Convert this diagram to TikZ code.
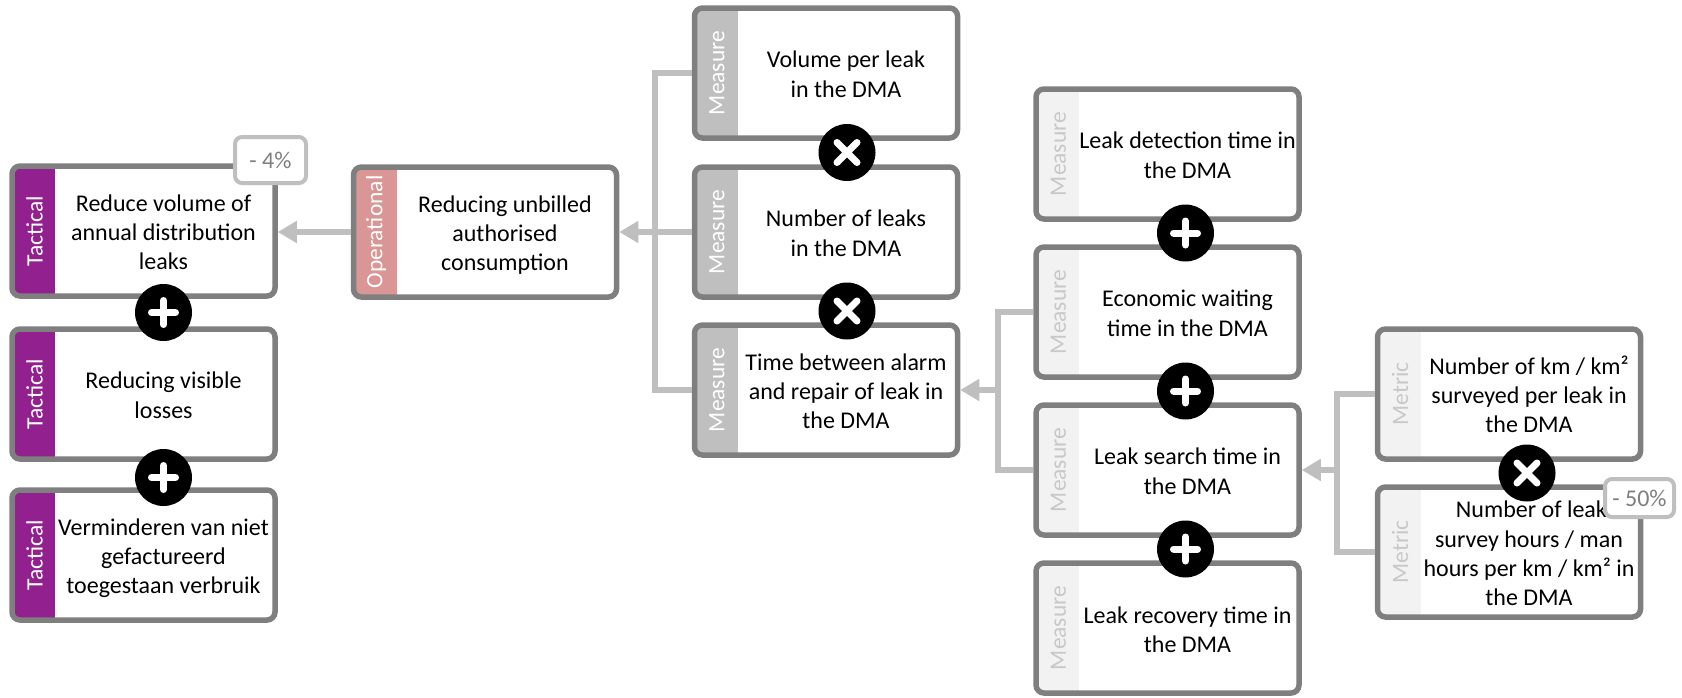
\documentclass[tikz,border=0pt]{standalone}
\usepackage{fontspec}
\setmainfont{Carlito}
\usetikzlibrary{arrows.meta,calc}

\definecolor{cardborder}{HTML}{7F7F7F}
\definecolor{tacticalband}{HTML}{93208F}
\definecolor{operationalband}{HTML}{D99694}
\definecolor{measureband}{HTML}{BFBFBF}
\definecolor{paleband}{HTML}{F2F2F2}
\definecolor{palelabel}{HTML}{C8C8C8}
\definecolor{wiregray}{HTML}{BFBFBF}

\newcommand\cardfont{\fontsize{24}{29.3}\selectfont}
\newcommand\bandfont{\fontsize{23.5}{28}\selectfont}
% card text: centred lines, pushed right of the coloured band and set a little low
\newcommand\cardtext[1]{\hspace*{40pt}\raisebox{-10pt}[0pt][0pt]{\begin{tabular}{@{}c@{}}#1\end{tabular}}}

\tikzset{
  card/.style n args={3}{
    draw=cardborder, line width=5.5pt, rounded corners=8pt, fill=white,
    minimum width=263pt, minimum height=130pt, inner sep=0pt,
    font=\cardfont, text=black,
    path picture={
      \fill[#1, sharp corners] (path picture bounding box.south west)
        rectangle ([xshift=43pt]path picture bounding box.north west);
      \node[rotate=90, text=#2, font=\bandfont, inner sep=0pt]
        at ([xshift=22.5pt]path picture bounding box.west) {#3};
    }},
  tactical/.style={card={tacticalband}{white}{Tactical}},
  operational/.style={card={operationalband}{white}{Operational}},
  measure/.style={card={measureband}{white}{Measure}},
  palemeasure/.style={card={paleband}{palelabel}{Measure}},
  metric/.style={card={paleband}{palelabel}{Metric}},
  opdisc/.style={circle, fill=black, minimum size=57pt, inner sep=0pt},
  plussign/.style={opdisc, path picture={
      \draw[white, line width=7pt, line cap=round]
        ([xshift=-12pt]path picture bounding box.center) -- ([xshift=12pt]path picture bounding box.center)
        ([yshift=-12pt]path picture bounding box.center) -- ([yshift=12pt]path picture bounding box.center);}},
  timessign/.style={opdisc, path picture={
      \draw[white, line width=7pt, line cap=round]
        ([shift={(-10pt,-10pt)}]path picture bounding box.center) -- ([shift={(10pt,10pt)}]path picture bounding box.center)
        ([shift={(-10pt,10pt)}]path picture bounding box.center) -- ([shift={(10pt,-10pt)}]path picture bounding box.center);}},
  badge/.style={draw=wiregray, line width=4pt, rounded corners=7pt, fill=white,
    text=cardborder, font=\cardfont, inner sep=0pt},
  wire/.style={draw=wiregray, line width=6pt},
  feed/.style={wire, -{Triangle[length=19pt,width=21pt]}},
}

\begin{document}
\begin{tikzpicture}[x=1pt, y=-1pt]
\useasboundingbox (0,0) rectangle (1682,697);

% tactical column
\node[tactical] (t1) at (143.5,231) {\cardtext{Reduce volume of\\annual distribution\\leaks}};
\node[tactical] (t2) at (143.5,394) {\cardtext{Reducing visible\\losses}};
\node[tactical] (t3) at (143.5,555) {\cardtext{Verminderen van niet\\gefactureerd\\toegestaan verbruik}};

% operational objective
\node[operational] (op) at (485,232) {\cardtext{Reducing unbilled\\authorised\\consumption}};

% measures feeding the operational objective
\node[measure] (m1) at (826,73) {\cardtext{Volume per leak\\in the DMA}};
\node[measure] (m2) at (826,232) {\cardtext{Number of leaks\\in the DMA}};
\node[measure] (m3) at (826,390) {\cardtext{Time between alarm\\and repair of leak in\\the DMA}};

% components of the alarm-to-repair time
\node[palemeasure] (r1) at (1167.5,154) {\cardtext{Leak detection time in\\the DMA}};
\node[palemeasure] (r2) at (1167.5,312) {\cardtext{Economic waiting\\time in the DMA}};
\node[palemeasure] (r3) at (1167.5,470) {\cardtext{Leak search time in\\the DMA}};
\node[palemeasure] (r4) at (1167.5,628) {\cardtext{Leak recovery time in\\the DMA}};

% metrics of the leak search time
\node[metric] (x1) at (1509,394) {\cardtext{Number of km / km²\\surveyed per leak in\\the DMA}};
\node[metric] (x2) at (1509,552) {\cardtext{\hspace*{14pt}Number of leaks\\survey hours / man\\hours per km / km² in\\the DMA}};

% connectors
\draw[feed] (op.west) -- (op.west -| t1.east);

\draw[wire] (m1.west) -- ++(-37,0) |- (m3.west);
\draw[feed] (m2.west) -- (m2.west -| op.east);

\draw[wire] (r2.west) -- ++(-35,0) coordinate (rbus) |- (r3.west);
\draw[feed] (m3.east -| rbus) -- (m3.east);

\draw[wire] (x1.west) -- ++(-38,0) coordinate (xbus) |- (x2.west);
\draw[feed] (r3.east -| xbus) -- (r3.east);

% operators between cards
\node[plussign] (pt1) at ($(t1.south)!.5!(t2.north)+(20,0)$) {};
\node[plussign] (pt2) at ($(t2.south)!.5!(t3.north)+(20,3)$) {};
\node[timessign] (xm1) at ($(m1.south)!.5!(m2.north)+(21,0)$) {};
\node[timessign] (xm2) at ($(m2.south)!.5!(m3.north)+(21,0)$) {};
\node[plussign] (pr1) at ($(r1.south)!.5!(r2.north)+(18,0)$) {};
\node[plussign] (pr2) at ($(r2.south)!.5!(r3.north)+(18,0)$) {};
\node[plussign] (pr3) at ($(r3.south)!.5!(r4.north)+(18,0)$) {};
\node[timessign] (xx1) at ($(x1.south)!.5!(x2.north)+(18,0)$) {};

% targets
\node[badge, minimum width=71pt, minimum height=46pt] (b4) at (270.5,160) {- 4\%};
\node[badge, minimum width=69pt, minimum height=38pt] (b50) at (1639.5,498) {- 50\%};
\end{tikzpicture}
\end{document}
